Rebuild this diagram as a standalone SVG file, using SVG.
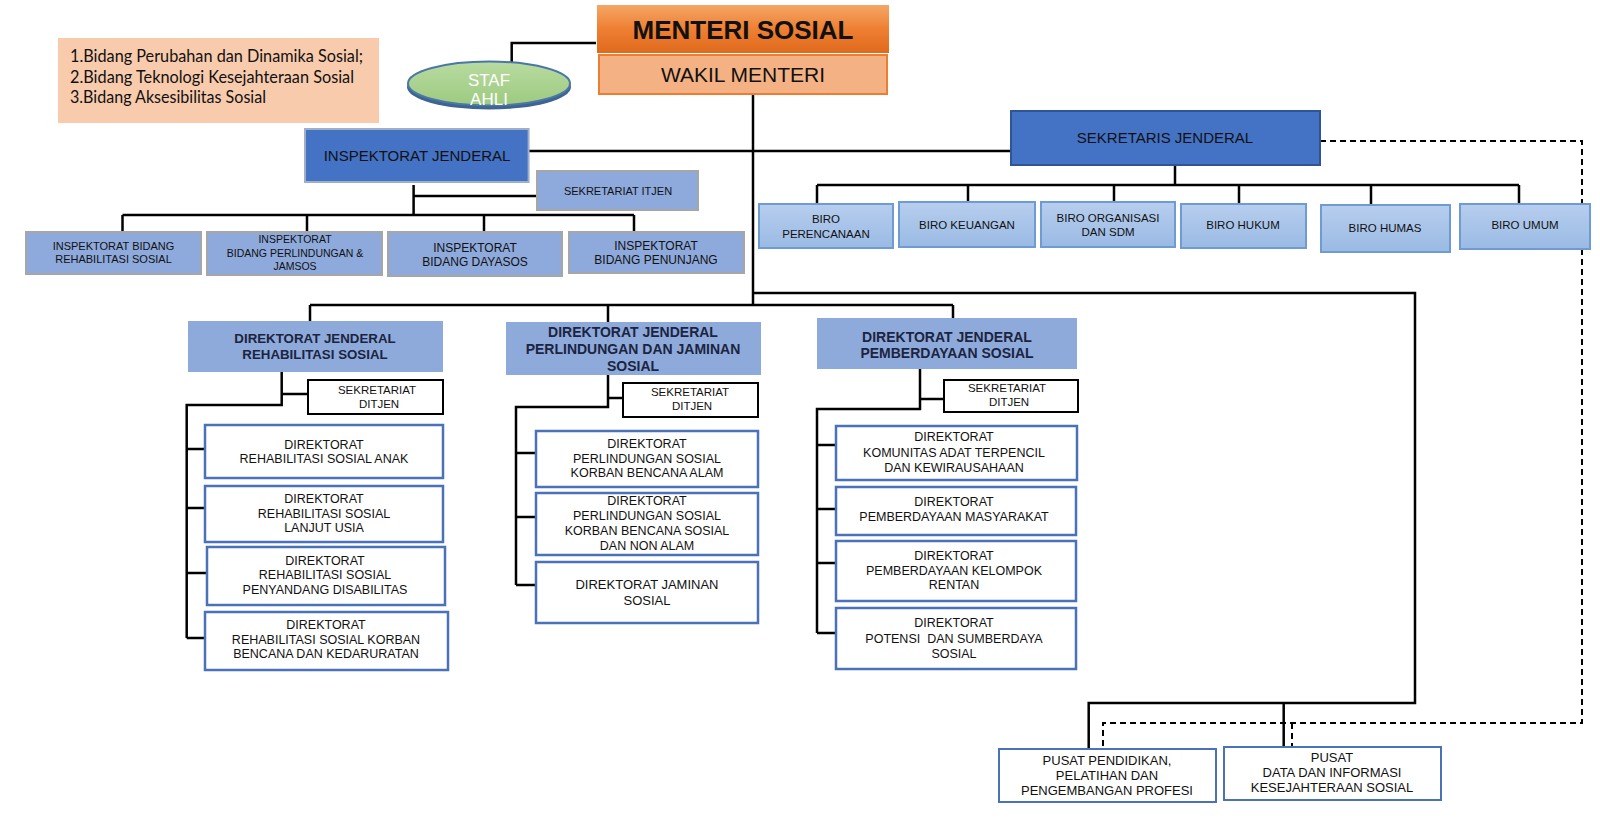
<svg xmlns="http://www.w3.org/2000/svg" width="1600" height="818" viewBox="0 0 1600 818">
<defs>
  <linearGradient id="gMenteri" x1="0" y1="0" x2="0" y2="1">
    <stop offset="0" stop-color="#F5A765"/>
    <stop offset="0.5" stop-color="#EE7F33"/>
    <stop offset="1" stop-color="#E06A1C"/>
  </linearGradient>
  <linearGradient id="gBiro" x1="0" y1="0" x2="0" y2="1">
    <stop offset="0" stop-color="#B7CEEE"/>
    <stop offset="1" stop-color="#9ABAE4"/>
  </linearGradient>
  <linearGradient id="gStaf" x1="0" y1="0" x2="0" y2="1">
    <stop offset="0" stop-color="#B8DBA0"/>
    <stop offset="1" stop-color="#9DCA80"/>
  </linearGradient>
  <style>
    text { font-family: "Liberation Sans", Arial, sans-serif; fill: #111; text-anchor: middle; }
    .ln { fill: none; stroke: #000; stroke-width: 2.5; }
    .dash { fill: none; stroke: #000; stroke-width: 2; stroke-dasharray: 6 4; }
    .insp { fill: #8EA9DB; stroke: #A6A6A6; stroke-width: 2; }
    .dark { fill: #4472C4; stroke: #2F5597; stroke-width: 2; }
    .biro { fill: url(#gBiro); stroke: #6E9BD2; stroke-width: 2; }
    .dj { fill: #8EAADB; }
    .sek { fill: #fff; stroke: #000; stroke-width: 2; }
    .dir { fill: #fff; stroke: #4A72B8; stroke-width: 2.5; }
    .djt { font-weight: bold; fill: #1B2440; }
    .t11 { font-size: 11px; }
    .t115 { font-size: 11.5px; }
    .t12 { font-size: 12px; }
    .t125 { font-size: 12.5px; }
    .t13 { font-size: 13px; }
    .t15 { font-size: 15px; }
  </style>
</defs>
<rect width="1600" height="818" fill="#fff"/>

<g id="connectors">
  <path class="ln" d="M596 43 H511.7 V62"/>
  <path class="ln" d="M753 94 V305"/>
  <path class="ln" d="M528 151 H1011"/>
  <path class="ln" d="M413.6 185 V215 M413.6 196 H537 M122.5 215 H634 M122.5 215 V232 M307 215 V232 M484 215 V232 M634 215 V232"/>
  <path class="ln" d="M1175 165 V185 M817 185 H1519 M817 185 V204 M968 185 V202 M1114 185 V202 M1239 185 V204 M1371 185 V205 M1519 185 V204"/>
  <path class="ln" d="M753 293 H1415 V703 H1088.7 V749 M1283.7 703 V747"/>
  <path class="ln" d="M310 305 H953 M310 305 V321 M608 305 V322 M953 305 V318"/>
  <path class="ln" d="M281.7 372 V405 H186.7 V638 M281.7 394 H308 M186.7 449 H205 M186.7 508 H205 M186.7 573 H207 M186.7 638 H205"/>
  <path class="ln" d="M608 375 V407 H516 V585 M608 398 H623 M516 453 H536 M516 517 H536 M516 585 H536"/>
  <path class="ln" d="M920 369 V409 H817 V633 M920 399 H944 M817 445 H836 M817 509 H836 M817 563 H836 M817 633 H836"/>
  <path class="dash" d="M1320 141 H1582 V723 H1103 V749 M1292 723 V747"/>
</g>

<g id="note">
  <rect x="58" y="38" width="321" height="85" fill="#F8CBAD"/>
  <text x="70" y="62" style="font-family:Lato,'Open Sans',sans-serif;font-size:17px;text-anchor:start" textLength="293" lengthAdjust="spacingAndGlyphs">1.Bidang Perubahan dan Dinamika Sosial;</text>
  <text x="70" y="83" style="font-family:Lato,'Open Sans',sans-serif;font-size:17px;text-anchor:start" textLength="284" lengthAdjust="spacingAndGlyphs">2.Bidang Teknologi Kesejahteraan Sosial</text>
  <text x="70" y="103" style="font-family:Lato,'Open Sans',sans-serif;font-size:17px;text-anchor:start" textLength="196" lengthAdjust="spacingAndGlyphs">3.Bidang Aksesibilitas Sosial</text>
</g>

<g id="menteri">
  <rect x="597" y="5" width="292" height="48" fill="url(#gMenteri)"/>
  <text x="743" y="39" style="font-size:26px;font-weight:bold">MENTERI SOSIAL</text>
</g>
<g id="wakil">
  <rect x="599" y="55" width="288" height="39" fill="#F4B183" stroke="#ED7D31" stroke-width="2"/>
  <text x="743" y="82" style="font-size:21px">WAKIL MENTERI</text>
</g>
<g id="staf-ahli">
  <ellipse cx="489" cy="87" rx="82" ry="22.5" fill="#3E6490"/>
  <ellipse cx="489" cy="83.5" rx="81" ry="22" fill="url(#gStaf)" stroke="#4A76A8" stroke-width="2"/>
  <text x="489" y="86" style="font-size:17px;fill:#fff">STAF</text>
  <text x="489" y="105" style="font-size:17px;fill:#fff">AHLI</text>
</g>

<g id="inspektorat-jenderal">
  <rect x="305" y="129" width="223.6" height="53" fill="#4472C4" stroke="#9FAFC8" stroke-width="2"/>
  <text class="t15" x="417" y="161">INSPEKTORAT JENDERAL</text>
</g>
<g id="sekretariat-itjen">
  <rect class="insp" x="537" y="171" width="161" height="39"/>
  <text class="t11" x="618" y="195">SEKRETARIAT ITJEN</text>
</g>
<g id="insp-rehab">
  <rect class="insp" x="26" y="232" width="175" height="42"/>
  <text class="t11" x="113.5" y="250">INSPEKTORAT BIDANG</text>
  <text class="t11" x="113.5" y="263">REHABILITASI SOSIAL</text>
</g>
<g id="insp-perlindungan">
  <rect class="insp" x="207" y="232" width="175" height="43"/>
  <text x="295" y="243" style="font-size:10.5px">INSPEKTORAT</text>
  <text x="295" y="257" style="font-size:10.5px">BIDANG PERLINDUNGAN &amp;</text>
  <text x="295" y="270" style="font-size:10.5px">JAMSOS</text>
</g>
<g id="insp-dayasos">
  <rect class="insp" x="388" y="232" width="174" height="44"/>
  <text class="t12" x="475" y="252">INSPEKTORAT</text>
  <text class="t12" x="475" y="266">BIDANG DAYASOS</text>
</g>
<g id="insp-penunjang">
  <rect class="insp" x="569" y="232" width="175" height="41"/>
  <text class="t12" x="656" y="250">INSPEKTORAT</text>
  <text class="t12" x="656" y="264">BIDANG PENUNJANG</text>
</g>

<g id="sekretaris-jenderal">
  <rect class="dark" x="1011" y="111" width="309" height="54"/>
  <text class="t15" x="1165" y="143">SEKRETARIS JENDERAL</text>
</g>
<g id="biro-perencanaan">
  <rect class="biro" x="759" y="204" width="134" height="44"/>
  <text class="t115" x="826" y="223">BIRO</text>
  <text class="t115" x="826" y="238">PERENCANAAN</text>
</g>
<g id="biro-keuangan">
  <rect class="biro" x="899" y="202" width="136" height="45"/>
  <text class="t115" x="967" y="229">BIRO KEUANGAN</text>
</g>
<g id="biro-organisasi">
  <rect class="biro" x="1041" y="202" width="134" height="45"/>
  <text class="t115" x="1108" y="222">BIRO ORGANISASI</text>
  <text class="t115" x="1108" y="236">DAN SDM</text>
</g>
<g id="biro-hukum">
  <rect class="biro" x="1181" y="204" width="125" height="44"/>
  <text class="t115" x="1243" y="229">BIRO HUKUM</text>
</g>
<g id="biro-humas">
  <rect class="biro" x="1321" y="205" width="129" height="47"/>
  <text class="t115" x="1385" y="232">BIRO HUMAS</text>
</g>
<g id="biro-umum">
  <rect class="biro" x="1460" y="204" width="130" height="45"/>
  <text class="t115" x="1525" y="229">BIRO UMUM</text>
</g>

<g id="dirjen-rehsos">
  <rect class="dj" x="188" y="321" width="255" height="51"/>
  <text class="djt" x="315" y="343" style="font-size:13.3px">DIREKTORAT JENDERAL</text>
  <text class="djt" x="315" y="359" style="font-size:13.3px">REHABILITASI SOSIAL</text>
</g>
<g id="sekditjen-rehsos">
  <rect class="sek" x="308" y="380" width="135" height="34"/>
  <text class="t115" x="377" y="394">SEKRETARIAT</text>
  <text class="t115" x="379" y="408">DITJEN</text>
</g>
<g id="dit-anak">
  <rect class="dir" x="205" y="425" width="238" height="53"/>
  <text class="t125" x="324" y="449">DIREKTORAT</text>
  <text class="t125" x="324" y="463">REHABILITASI SOSIAL ANAK</text>
</g>
<g id="dit-lansia">
  <rect class="dir" x="205" y="486" width="238" height="56"/>
  <text class="t125" x="324" y="503">DIREKTORAT</text>
  <text class="t125" x="324" y="518">REHABILITASI SOSIAL</text>
  <text class="t125" x="324" y="532">LANJUT USIA</text>
</g>
<g id="dit-disabilitas">
  <rect class="dir" x="207" y="547" width="238" height="58"/>
  <text class="t125" x="325" y="565">DIREKTORAT</text>
  <text class="t125" x="325" y="579">REHABILITASI SOSIAL</text>
  <text class="t125" x="325" y="594">PENYANDANG DISABILITAS</text>
</g>
<g id="dit-kedaruratan">
  <rect class="dir" x="205" y="612" width="243" height="58"/>
  <text class="t125" x="326" y="629">DIREKTORAT</text>
  <text class="t125" x="326" y="644">REHABILITASI SOSIAL KORBAN</text>
  <text class="t125" x="326" y="658">BENCANA DAN KEDARURATAN</text>
</g>

<g id="dirjen-linjamsos">
  <rect class="dj" x="506" y="322" width="255" height="53"/>
  <text class="djt" x="633" y="337" style="font-size:14px">DIREKTORAT JENDERAL</text>
  <text class="djt" x="633" y="354" style="font-size:14px">PERLINDUNGAN DAN JAMINAN</text>
  <text class="djt" x="633" y="371" style="font-size:14px">SOSIAL</text>
</g>
<g id="sekditjen-linjamsos">
  <rect class="sek" x="623" y="383" width="135" height="34"/>
  <text class="t115" x="690" y="396">SEKRETARIAT</text>
  <text class="t115" x="692" y="410">DITJEN</text>
</g>
<g id="dit-bencana-alam">
  <rect class="dir" x="536" y="431" width="222" height="56"/>
  <text class="t125" x="647" y="448">DIREKTORAT</text>
  <text class="t125" x="647" y="463">PERLINDUNGAN SOSIAL</text>
  <text class="t125" x="647" y="477">KORBAN BENCANA ALAM</text>
</g>
<g id="dit-bencana-sosial">
  <rect class="dir" x="536" y="493" width="222" height="62"/>
  <text class="t125" x="647" y="505">DIREKTORAT</text>
  <text class="t125" x="647" y="520">PERLINDUNGAN SOSIAL</text>
  <text class="t125" x="647" y="535">KORBAN BENCANA SOSIAL</text>
  <text class="t125" x="647" y="550">DAN NON ALAM</text>
</g>
<g id="dit-jaminan">
  <rect class="dir" x="536" y="562" width="222" height="61"/>
  <text class="t13" x="647" y="589">DIREKTORAT JAMINAN</text>
  <text class="t13" x="647" y="605">SOSIAL</text>
</g>

<g id="dirjen-dayasos">
  <rect class="dj" x="817" y="318" width="260" height="51"/>
  <text class="djt" x="947" y="342" style="font-size:14px">DIREKTORAT JENDERAL</text>
  <text class="djt" x="947" y="358" style="font-size:14px">PEMBERDAYAAN SOSIAL</text>
</g>
<g id="sekditjen-dayasos">
  <rect class="sek" x="944" y="380" width="134" height="32"/>
  <text class="t115" x="1007" y="392">SEKRETARIAT</text>
  <text class="t115" x="1009" y="406">DITJEN</text>
</g>
<g id="dit-kat">
  <rect class="dir" x="836" y="426" width="241" height="54"/>
  <text class="t125" x="954" y="441">DIREKTORAT</text>
  <text class="t125" x="954" y="457">KOMUNITAS ADAT TERPENCIL</text>
  <text class="t125" x="954" y="472">DAN KEWIRAUSAHAAN</text>
</g>
<g id="dit-masyarakat">
  <rect class="dir" x="836" y="487" width="240" height="48"/>
  <text class="t125" x="954" y="506">DIREKTORAT</text>
  <text class="t125" x="954" y="521">PEMBERDAYAAN MASYARAKAT</text>
</g>
<g id="dit-rentan">
  <rect class="dir" x="836" y="541" width="240" height="60"/>
  <text class="t125" x="954" y="560">DIREKTORAT</text>
  <text class="t125" x="954" y="575">PEMBERDAYAAN KELOMPOK</text>
  <text class="t125" x="954" y="589">RENTAN</text>
</g>
<g id="dit-potensi">
  <rect class="dir" x="836" y="608" width="240" height="61"/>
  <text class="t125" x="954" y="627">DIREKTORAT</text>
  <text class="t125" x="954" y="643" style="white-space:pre">POTENSI  DAN SUMBERDAYA</text>
  <text class="t125" x="954" y="658">SOSIAL</text>
</g>

<g id="pusat-diklat">
  <rect x="999" y="749" width="217" height="53" fill="#fff" stroke="#4A72B8" stroke-width="2"/>
  <text class="t13" x="1107" y="765">PUSAT PENDIDIKAN,</text>
  <text class="t13" x="1107" y="780">PELATIHAN DAN</text>
  <text class="t13" x="1107" y="795">PENGEMBANGAN PROFESI</text>
</g>
<g id="pusat-data">
  <rect x="1224" y="747" width="217" height="53" fill="#fff" stroke="#4A72B8" stroke-width="2"/>
  <text class="t13" x="1332" y="762">PUSAT</text>
  <text class="t13" x="1332" y="777">DATA DAN INFORMASI</text>
  <text class="t13" x="1332" y="792">KESEJAHTERAAN SOSIAL</text>
</g>
</svg>
